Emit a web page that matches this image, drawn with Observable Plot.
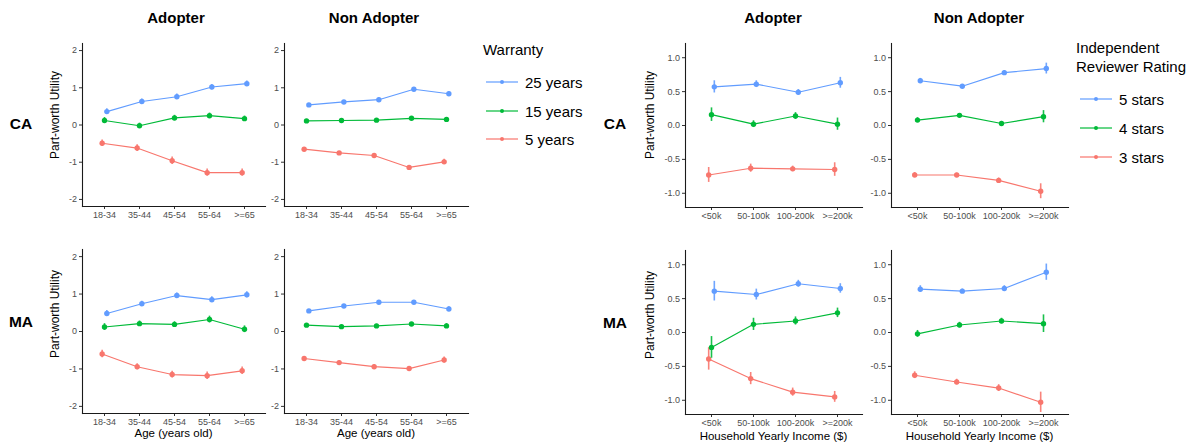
<!DOCTYPE html>
<html>
<head>
<meta charset="utf-8">
<script src="https://cdn.jsdelivr.net/npm/d3@7"></script>
<script src="https://cdn.jsdelivr.net/npm/@observablehq/plot@0.6"></script>
<style>
  html, body { margin: 0; padding: 0; background: #fff; }
  #root { position: relative; width: 1192px; height: 444px; overflow: hidden; font-family: "Liberation Sans", Arial, sans-serif; color: #000; }
  .t { position: absolute; white-space: nowrap; line-height: 1; transform: translate(-50%, -50%); }
  .l { position: absolute; white-space: nowrap; line-height: 1; transform: translate(0, -50%); }
  .p { position: absolute; }
</style>
</head>
<body>
<div id="root"></div>
<script>
// ---------- categories ----------
const ages = ["18-34", "35-44", "45-54", "55-64", ">=65"];
const incomes = ["<50k", "50-100k", "100-200k", ">=200k"];
const warrantyLevels = ["5 years", "15 years", "25 years"];
const ratingLevels = ["3 stars", "4 stars", "5 stars"];
const seriesColors = ["#F8766D", "#00BA38", "#619CFF"];
const adopterLabels = ["Adopter", "Non Adopter"];
const stateLabels = ["CA", "MA"];
const leftTicks = [-2, -1, 0, 1, 2];
const rightTicks = [-1, -0.5, 0, 0.5, 1];

// ---------- warranty x age (values / error half-widths) ----------
const warCAAdopter = {"25 years": [0.36, 0.63, 0.76, 1.02, 1.11], "15 years": [0.12, -0.02, 0.19, 0.25, 0.17], "5 years": [-0.49, -0.62, -0.96, -1.28, -1.28]};
const warCAAdopterErr = {"25 years": [0.08, 0.07, 0.07, 0.07, 0.07], "15 years": [0.08, 0.07, 0.07, 0.07, 0.07], "5 years": [0.09, 0.09, 0.1, 0.1, 0.1]};
const warCANon = {"25 years": [0.54, 0.62, 0.68, 0.96, 0.84], "15 years": [0.11, 0.12, 0.13, 0.18, 0.15], "5 years": [-0.65, -0.75, -0.82, -1.14, -0.99]};
const warCANonErr = {"25 years": [0.04, 0.04, 0.04, 0.04, 0.05], "15 years": [0.04, 0.04, 0.04, 0.04, 0.05], "5 years": [0.04, 0.04, 0.04, 0.05, 0.07]};
const warMAAdopter = {"25 years": [0.48, 0.74, 0.96, 0.85, 0.98], "15 years": [0.12, 0.21, 0.19, 0.32, 0.06], "5 years": [-0.60, -0.94, -1.15, -1.18, -1.05]};
const warMAAdopterErr = {"25 years": [0.08, 0.07, 0.07, 0.08, 0.08], "15 years": [0.09, 0.07, 0.07, 0.09, 0.09], "5 years": [0.1, 0.08, 0.09, 0.1, 0.1]};
const warMANon = {"25 years": [0.55, 0.68, 0.78, 0.78, 0.60], "15 years": [0.17, 0.13, 0.15, 0.20, 0.15], "5 years": [-0.72, -0.83, -0.94, -0.99, -0.76]};
const warMANonErr = {"25 years": [0.04, 0.04, 0.04, 0.04, 0.06], "15 years": [0.04, 0.04, 0.04, 0.04, 0.06], "5 years": [0.04, 0.04, 0.05, 0.05, 0.08]};

// ---------- reviewer rating x income ----------
const ratCAAdopter = {"5 stars": [0.57, 0.61, 0.49, 0.63], "4 stars": [0.16, 0.02, 0.14, 0.02], "3 stars": [-0.73, -0.63, -0.64, -0.65]};
const ratCAAdopterErr = {"5 stars": [0.09, 0.05, 0.04, 0.08], "4 stars": [0.1, 0.05, 0.05, 0.09], "3 stars": [0.11, 0.06, 0.04, 0.1]};
const ratCANon = {"5 stars": [0.66, 0.58, 0.78, 0.84], "4 stars": [0.08, 0.15, 0.03, 0.13], "3 stars": [-0.73, -0.73, -0.81, -0.97]};
const ratCANonErr = {"5 stars": [0.035, 0.025, 0.03, 0.08], "4 stars": [0.035, 0.025, 0.03, 0.09], "3 stars": [0.035, 0.025, 0.035, 0.11]};
const ratMAAdopter = {"5 stars": [0.61, 0.56, 0.72, 0.65], "4 stars": [-0.22, 0.12, 0.17, 0.29], "3 stars": [-0.39, -0.68, -0.88, -0.95]};
const ratMAAdopterErr = {"5 stars": [0.145, 0.08, 0.05, 0.07], "4 stars": [0.16, 0.09, 0.06, 0.07], "3 stars": [0.165, 0.09, 0.06, 0.08]};
const ratMANon = {"5 stars": [0.64, 0.61, 0.65, 0.89], "4 stars": [-0.02, 0.11, 0.17, 0.13], "3 stars": [-0.63, -0.73, -0.82, -1.03]};
const ratMANonErr = {"5 stars": [0.05, 0.03, 0.04, 0.12], "4 stars": [0.05, 0.04, 0.04, 0.13], "3 stars": [0.05, 0.04, 0.05, 0.15]};

const root = document.getElementById("root");
const FONT = "'Liberation Sans', Arial, sans-serif";

function hyphenFmt(decimals) {
  return d => (d < 0 ? "-" : "") + (decimals ? Math.abs(d).toFixed(decimals) : String(Math.abs(d)));
}

function panel(cfg) {
  const {cats, levels, vals, errs, yDomain, yTicks, yFmt, x0, x1, y0, y1} = cfg;
  const mL = 32, mR = 4, mT = 4, mB = 22;
  const w = x1 - x0, h = y1 - y0;
  const step = w / (cats.length - 1 + 1.2);
  const marks = [];
  levels.forEach((lv, i) => {
    const rows = cats.map((c, j) => ({cat: c, lv, v: vals[lv][j], e: errs[lv][j]}));
    const dx = (i - 1) * step * 0.0667;
    marks.push(Plot.ruleX(rows, {x: "cat", y1: d => d.v - d.e, y2: d => d.v + d.e, stroke: "lv", strokeWidth: 1.6, strokeOpacity: 0.9, dx}));
    marks.push(Plot.line(rows, {x: "cat", y: "v", stroke: "lv", strokeWidth: 1.15, dx}));
    marks.push(Plot.dot(rows, {x: "cat", y: "v", fill: "lv", r: 2.7, dx}));
  });
  const chart = Plot.plot({
    width: w + mL + mR,
    height: h + mT + mB,
    marginLeft: mL, marginRight: mR, marginTop: mT, marginBottom: mB,
    style: {fontFamily: FONT, background: "transparent", overflow: "visible"},
    x: {type: "point", domain: cats, padding: 0.6},
    y: {domain: yDomain},
    color: {domain: levels, range: seriesColors},
    marks: [
      Plot.axisX({tickSize: 3, tickPadding: 2.5, fontSize: 9, stroke: "#333", fill: "#4d4d4d", label: null}),
      Plot.axisY({ticks: yTicks, tickFormat: yFmt, tickSize: 3, tickPadding: 2.5, fontSize: 9, stroke: "#333", fill: "#4d4d4d", label: null}),
      Plot.frame({anchor: "left", stroke: "#1a1a1a", strokeWidth: 1.1}),
      Plot.frame({anchor: "bottom", stroke: "#1a1a1a", strokeWidth: 1.1}),
      ...marks
    ]
  });
  chart.classList.add("p");
  chart.style.left = (x0 - mL) + "px";
  chart.style.top = (y0 - mT) + "px";
  root.appendChild(chart);
}

function text(str, x, y, css, cls = "t") {
  const d = document.createElement("div");
  d.className = cls;
  d.textContent = str;
  d.style.left = x + "px";
  d.style.top = y + "px";
  Object.assign(d.style, css);
  root.appendChild(d);
  return d;
}

const leftCfg = {cats: ages, levels: warrantyLevels, yDomain: [-2.19, 2.19], yTicks: leftTicks, yFmt: hyphenFmt(0)};
const rightCfg = {cats: incomes, levels: ratingLevels, yDomain: [-1.21, 1.21], yTicks: rightTicks, yFmt: hyphenFmt(1)};

panel({...leftCfg, vals: warCAAdopter, errs: warCAAdopterErr, x0: 82, x1: 265, y0: 43, y1: 206});
panel({...leftCfg, vals: warCANon, errs: warCANonErr, x0: 284, x1: 468, y0: 43, y1: 206});
panel({...leftCfg, vals: warMAAdopter, errs: warMAAdopterErr, x0: 82, x1: 265, y0: 249, y1: 413});
panel({...leftCfg, vals: warMANon, errs: warMANonErr, x0: 284, x1: 468, y0: 249, y1: 413});

panel({...rightCfg, vals: ratCAAdopter, errs: ratCAAdopterErr, x0: 685, x1: 862, y0: 43, y1: 207});
panel({...rightCfg, vals: ratCANon, errs: ratCANonErr, x0: 891, x1: 1068, y0: 43, y1: 207});
panel({...rightCfg, vals: ratMAAdopter, errs: ratMAAdopterErr, x0: 685, x1: 862, y0: 250, y1: 414});
panel({...rightCfg, vals: ratMANon, errs: ratMANonErr, x0: 891, x1: 1068, y0: 250, y1: 414});

// facet titles
const titleCss = {fontSize: "15px", fontWeight: "bold"};
text(adopterLabels[0], 176, 17, titleCss);
text(adopterLabels[1], 374, 17, titleCss);
text(adopterLabels[0], 773, 17, titleCss);
text(adopterLabels[1], 979, 17, titleCss);
// row labels
const rowCss = {fontSize: "15.5px", fontWeight: "bold"};
text(stateLabels[0], 21, 124, rowCss);
text(stateLabels[1], 21, 322, rowCss);
text(stateLabels[0], 615, 124, rowCss);
text(stateLabels[1], 615, 323, rowCss);
// y axis titles
const yCss = {fontSize: "12px", transform: "translate(-50%, -50%) rotate(-90deg)"};
text("Part-worth Utility", 55, 115, yCss);
text("Part-worth Utility", 55, 314, yCss);
text("Part-worth Utility", 650, 115, yCss);
text("Part-worth Utility", 650, 315, yCss);
// x axis titles
const xCss = {fontSize: "11.5px"};
text("Age (years old)", 173.5, 434, xCss);
text("Age (years old)", 376, 434, xCss);
text("Household Yearly Income ($)", 773.5, 436.5, xCss);
text("Household Yearly Income ($)", 979.5, 436.5, xCss);

// legends
function legendKey(x, y, color) {
  const ns = "http://www.w3.org/2000/svg";
  const s = document.createElementNS(ns, "svg");
  s.setAttribute("width", 34); s.setAttribute("height", 8);
  s.style.position = "absolute"; s.style.left = (x - 1) + "px"; s.style.top = (y - 4) + "px";
  const ln = document.createElementNS(ns, "line");
  ln.setAttribute("x1", 1); ln.setAttribute("x2", 33); ln.setAttribute("y1", 4); ln.setAttribute("y2", 4);
  ln.setAttribute("stroke", color); ln.setAttribute("stroke-width", 1.2);
  const c = document.createElementNS(ns, "circle");
  c.setAttribute("cx", 17); c.setAttribute("cy", 4); c.setAttribute("r", 2); c.setAttribute("fill", color);
  s.appendChild(ln); s.appendChild(c);
  root.appendChild(s);
}
const legCss = {fontSize: "15px"};
text("Warranty", 483, 48.5, legCss, "l");
const leftRows = [81.7, 110.7, 139.3];
[...warrantyLevels].reverse().forEach((lv, i) => {
  const col = seriesColors[warrantyLevels.indexOf(lv)];
  legendKey(486, leftRows[i], col);
  text(lv, 525, leftRows[i], legCss, "l");
});
text("Independent", 1076, 47, legCss, "l");
text("Reviewer Rating", 1076, 66, legCss, "l");
const rightRows = [99, 128.3, 157.3];
[...ratingLevels].reverse().forEach((lv, i) => {
  const col = seriesColors[ratingLevels.indexOf(lv)];
  legendKey(1080, rightRows[i], col);
  text(lv, 1119, rightRows[i], legCss, "l");
});
</script>
</body>
</html>
